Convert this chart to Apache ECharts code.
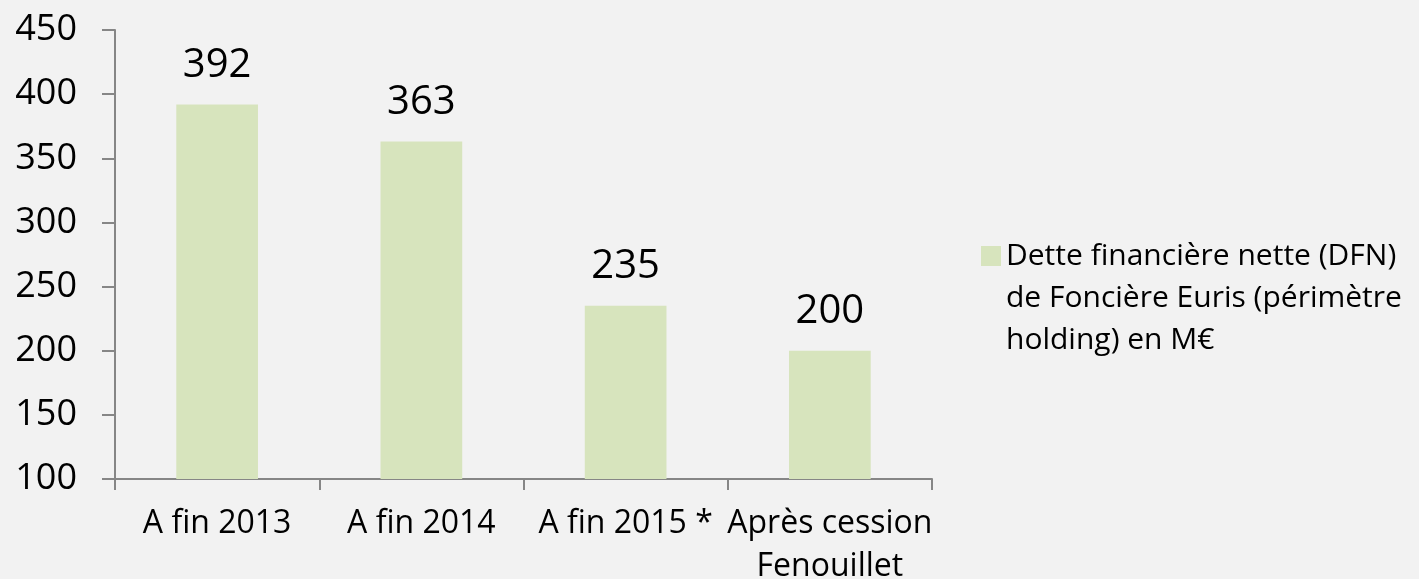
<!DOCTYPE html>
<html>
<head>
<meta charset="utf-8">
<script src="https://cdn.jsdelivr.net/npm/echarts@6/dist/echarts.min.js"></script>
<style>
  html, body { margin: 0; padding: 0; background: #f2f2f2; }
  #chart { width: 1419px; height: 579px; }
</style>
</head>
<body>
<div id="chart"></div>
<script>
const categories = ['A fin 2013', 'A fin 2014', 'A fin 2015 *', 'Après cession\nFenouillet']
const debtValues = [392, 363, 235, 200]
const seriesName = 'Dette financière nette (DFN)\nde Foncière Euris (périmètre\nholding) en M€'

const FONT = '"Open Sans", sans-serif'
const axisColor = '#868686'

const chart = echarts.init(document.getElementById('chart'))
chart.setOption({
  backgroundColor: '#f2f2f2',
  animation: false,
  textStyle: { fontFamily: FONT, color: '#000' },
  grid: { left: 115, right: 487, top: 30, bottom: 100, outerBoundsMode: 'none' },
  legend: {
    data: [seriesName],
    left: 976,
    top: 146,
    itemWidth: 20,
    itemHeight: 20,
    icon: 'rect',
    // blank lines on top so the square sits next to the first line
    formatter: (name) => '\n\n' + name,
    textStyle: {
      fontFamily: FONT,
      fontSize: 30,
      color: '#000',
      lineHeight: 42,
    },
  },
  xAxis: {
    type: 'category',
    data: categories,
    axisLine: { lineStyle: { color: axisColor, width: 2 } },
    axisTick: { show: true, length: 11, lineStyle: { color: axisColor, width: 2 } },
    axisLabel: { color: '#000', fontSize: 32, fontFamily: FONT, margin: 23, lineHeight: 43, interval: 0 },
  },
  yAxis: {
    type: 'value',
    min: 100,
    max: 450,
    interval: 50,
    splitLine: { show: false },
    axisLine: { show: true, lineStyle: { color: axisColor, width: 2 } },
    axisTick: { show: true, length: 13, lineStyle: { color: axisColor, width: 2 } },
    axisLabel: { color: '#000', fontSize: 36, fontFamily: FONT, margin: 38 },
  },
  series: [
    {
      name: seriesName,
      type: 'bar',
      data: debtValues,
      barWidth: '40%',
      itemStyle: { color: '#d7e4bd' },
      label: {
        show: true,
        position: 'top',
        distance: 19,
        fontSize: 40,
        fontFamily: FONT,
        color: '#000',
      },
    },
  ],
})
</script>
</body>
</html>
